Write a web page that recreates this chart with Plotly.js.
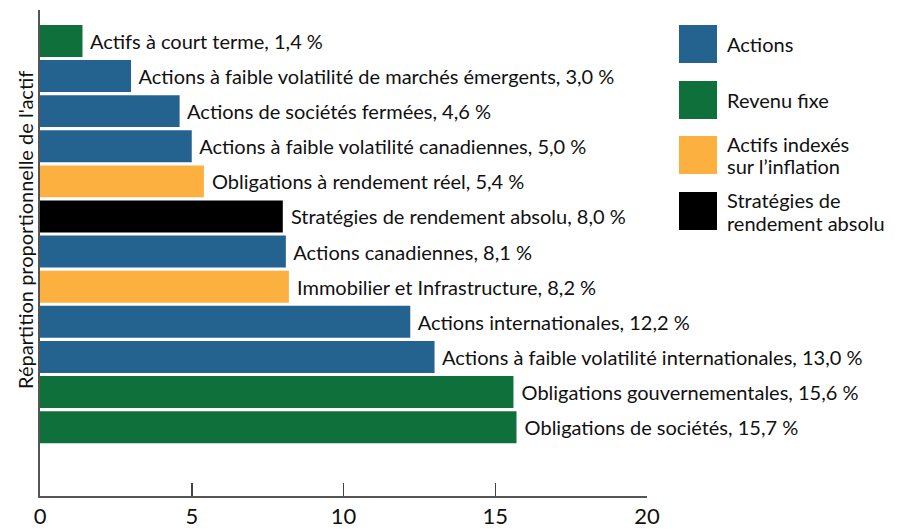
<!DOCTYPE html>
<html>
<head>
<meta charset="utf-8">
<script src="https://cdn.plot.ly/plotly-3.0.1.min.js"></script>
<style>html,body{margin:0;padding:0;background:#fff;}#chart{width:910px;height:529px;}</style>
</head>
<body>
<div id="chart"></div>
<script>
const categories = [
  "Actifs à court terme",
  "Actions à faible volatilité de marchés émergents",
  "Actions de sociétés fermées",
  "Actions à faible volatilité canadiennes",
  "Obligations à rendement réel",
  "Stratégies de rendement absolu",
  "Actions canadiennes",
  "Immobilier et Infrastructure",
  "Actions internationales",
  "Actions à faible volatilité internationales",
  "Obligations gouvernementales",
  "Obligations de sociétés"
];
const values = [1.4, 3.0, 4.6, 5.0, 5.4, 8.0, 8.1, 8.2, 12.2, 13.0, 15.6, 15.7];
const groups = ["fixe","actions","actions","actions","indexes","absolu","actions","indexes","actions","actions","fixe","fixe"];
const groupNames = ["actions","fixe","indexes","absolu"];
const groupLabels = [["Actions"],["Revenu fixe"],["Actifs indexés","sur l’inflation"],["Stratégies de","rendement absolu"]];
const groupColors = {actions:"#24638f", fixe:"#0f703b", indexes:"#fbb040", absolu:"#000000"};
const xTicks = [0, 5, 10, 15, 20];

const FONT = "Lato, 'Noto Sans', sans-serif";
const texts = categories.map((c,i)=> "\u00a0" + c + ", " + values[i].toFixed(1).replace(".", ",") + " %");

const trace = {
  type: "bar",
  orientation: "h",
  x: values,
  y: categories,
  marker: {color: groups.map(g=>groupColors[g]), line: {width: 0}},
  text: texts,
  textposition: "outside",
  textfont: {family: FONT, size: 20, color: "#111"},
  constraintext: "none",
  cliponaxis: false,
  hoverinfo: "none",
  showlegend: false
};

// plot area pixel geometry
const L = 40, R = 647, T = 10, B = 496;
const px = p => (p - L) / (R - L);
const py = p => (B - p) / (B - T);

const shapes = [];
const annotations = [];
const sqTop = [25, 81, 136, 192];
const LINE = 23;
groupNames.forEach((g, i) => {
  shapes.push({type:"rect", xref:"paper", yref:"paper",
    x0: px(679), x1: px(717), y0: py(sqTop[i] + 38), y1: py(sqTop[i]),
    fillcolor: groupColors[g], line:{width:0}});
  const lines = groupLabels[i];
  const c = sqTop[i] + 19;
  lines.forEach((t, k) => {
    const yc = c + (k - (lines.length - 1) / 2) * LINE;
    annotations.push({xref:"paper", yref:"paper", x: px(725), y: py(yc),
      xanchor:"left", yanchor:"middle", align:"left", showarrow:false,
      text: t, font:{family: FONT, size: 20, color:"#111"}});
  });
});
annotations.push({xref:"paper", yref:"paper", x: px(25), y: py(230), xanchor:"center", yanchor:"middle",
  textangle: -90, showarrow:false, text:"Répartition proportionnelle de l'actif",
  font:{family: FONT, size: 20, color:"#111"}});

const layout = {
  width: 910, height: 529,
  margin: {l: L, r: 910 - R, t: T, b: 529 - B, pad: 0},
  paper_bgcolor: "#fff", plot_bgcolor: "#fff",
  bargap: 0.09,
  xaxis: {range: [0, 20], tickvals: xTicks, ticktext: xTicks.map(String),
    ticks: "inside", ticklen: 13, tickwidth: 1.5, tickcolor: "#444",
    showline: true, linecolor: "#555", linewidth: 2, showgrid: false, zeroline: false,
    tickfont: {family: FONT, size: 22, color: "#111"}, fixedrange: true},
  yaxis: {type: "category", categoryorder: "array", categoryarray: categories,
    range: [12.96, -0.88], showticklabels: false, ticks: "",
    showline: true, linecolor: "#555", linewidth: 2, showgrid: false, zeroline: false, fixedrange: true},
  shapes: shapes,
  annotations: annotations,
  showlegend: false
};

Plotly.newPlot("chart", [trace], layout, {displayModeBar: false, staticPlot: true});
</script>
</body>
</html>
